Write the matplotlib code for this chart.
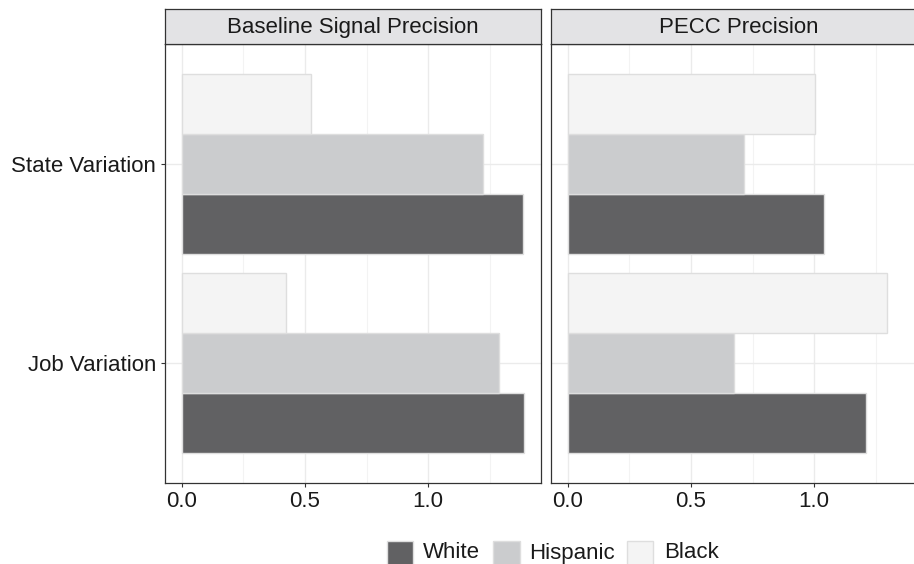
import matplotlib
matplotlib.use("Agg")
import matplotlib.pyplot as plt
from matplotlib.patches import Rectangle
import numpy as np

plt.rcParams['font.family'] = ['Liberation Sans', 'DejaVu Sans']

# ---- data ----
panels = ["Baseline Signal Precision", "PECC Precision"]
categories = ["Job Variation", "State Variation"]
groups = ["White", "Hispanic", "Black"]
# values[panel][group] -> [Job Variation, State Variation]
baseline_white = [1.39, 1.384]
baseline_hispanic = [1.289, 1.222]
baseline_black = [0.423, 0.525]
pecc_white = [1.211, 1.041]
pecc_hispanic = [0.675, 0.715]
pecc_black = [1.295, 1.003]
x_ticks = [0.0, 0.5, 1.0]
x_ticklabels = ["0.0", "0.5", "1.0"]

panel_values = [
    {"White": baseline_white, "Hispanic": baseline_hispanic, "Black": baseline_black},
    {"White": pecc_white, "Hispanic": pecc_hispanic, "Black": pecc_black},
]

# ---- style ----
colors = {"White": "#616163", "Hispanic": "#CBCCCE", "Black": "#F4F4F4"}
edge = "#DEDEDE"
dark = "#333333"
txt = "#1A1A1A"

W, H = 914, 564
fig = plt.figure(figsize=(W / 100, H / 100), dpi=100)

def fx(px):
    return px / W

def fy(py):
    return 1 - py / H

panel_top, panel_bot = 44.3, 482.7
panel_w = 376.6
panel_lefts = [164.7, 550.7]
strip_top = 9.3

xmax = max(max(v) for pv in panel_values for v in pv.values())
xlim = (-0.05 * xmax, 1.05 * xmax)
ypos = np.arange(len(categories))
offsets = {"White": -0.3, "Hispanic": 0.0, "Black": 0.3}

for i, (name, pv) in enumerate(zip(panels, panel_values)):
    left = panel_lefts[i]
    ax = fig.add_axes([fx(left), fy(panel_bot), panel_w / W, (panel_bot - panel_top) / H])
    ax.set_xlim(*xlim)
    ax.set_ylim(-0.6, len(categories) - 0.4)
    ax.set_xticks(x_ticks)
    ax.set_xticklabels(x_ticklabels)
    ax.set_xticks([0.25, 0.75, 1.25], minor=True)
    ax.set_axisbelow(True)
    ax.grid(True, which="major", axis="both", color="#EBEBEB", lw=1.0)
    ax.grid(True, which="minor", axis="x", color="#F3F3F3", lw=0.8)
    for g in groups:
        ax.barh(ypos + offsets[g], pv[g], height=0.3, color=colors[g],
                edgecolor=edge, linewidth=1.0, zorder=2)
    for s in ax.spines.values():
        s.set_color(dark)
        s.set_linewidth(0.9)
    ax.tick_params(axis="x", which="major", length=3.2, width=0.8, color=dark,
                   labelsize=16, labelcolor=txt, pad=3)
    ax.tick_params(axis="x", which="minor", length=0)
    ax.set_yticks(ypos)
    if i == 0:
        ax.set_yticklabels(categories)
        ax.tick_params(axis="y", length=3.2, width=0.8, color=dark,
                       labelsize=16, labelcolor=txt, pad=3)
    else:
        ax.set_yticklabels([])
        ax.tick_params(axis="y", length=0)

    # strip
    sax = fig.add_axes([fx(left), fy(panel_top), panel_w / W, (panel_top - strip_top) / H])
    sax.set_facecolor("#E3E3E5")
    sax.set_xticks([])
    sax.set_yticks([])
    for s in sax.spines.values():
        s.set_color(dark)
        s.set_linewidth(0.9)
    sax.text(0.5, 0.47, name, ha="center", va="center", fontsize=16, color=txt,
             transform=sax.transAxes)

# ---- legend ----
key_x = [386.5, 493.5, 626.8]
text_x = [423.3, 529.6, 664.0]
key_top, key_size = 540.5, 26
for g, kx, tx in zip(groups, key_x, text_x):
    fig.patches.append(Rectangle((fx(kx), fy(key_top + key_size)), key_size / W, key_size / H,
                                 transform=fig.transFigure, facecolor=colors[g],
                                 edgecolor=edge, linewidth=1.0))
    fig.text(fx(tx), fy(558.5), g, ha="left", va="baseline", fontsize=16, color=txt)

fig.savefig("out.png", dpi=100)
